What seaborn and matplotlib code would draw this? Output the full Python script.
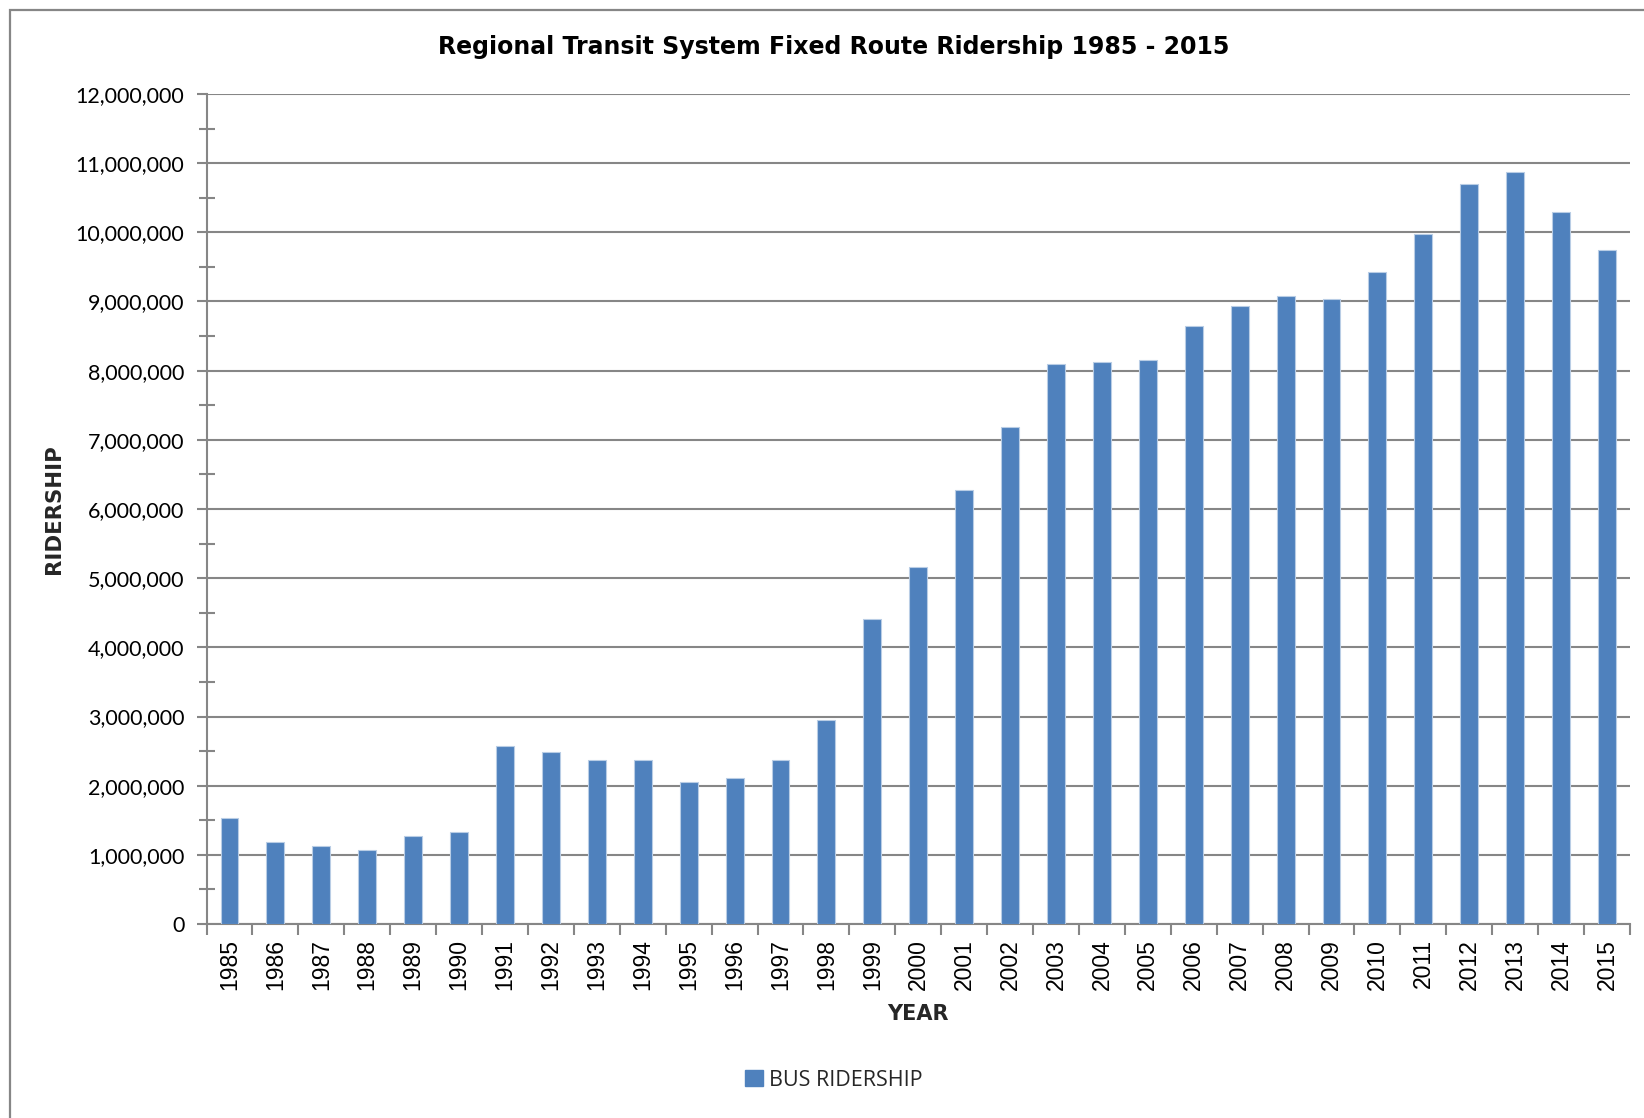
import matplotlib
matplotlib.use("Agg")
import matplotlib.pyplot as plt
import matplotlib.patches as mpatches
from matplotlib.ticker import FuncFormatter, MultipleLocator, FixedLocator
import seaborn as sns
import pandas as pd

years = [str(y) for y in range(1985, 2016)]
ridership = [1530000, 1185000, 1125000, 1065000, 1270000, 1330000, 2570000, 2485000,
             2370000, 2370000, 2050000, 2105000, 2370000, 2945000, 4410000, 5160000,
             6280000, 7180000, 8100000, 8130000, 8160000, 8650000, 8935000, 9075000,
             9030000, 9425000, 9980000, 10700000, 10870000, 10295000, 9745000]
series_name = "BUS RIDERSHIP"
title = "Regional Transit System Fixed Route Ridership 1985 - 2015"

df = pd.DataFrame({"year": years, "ridership": ridership})

sns.set_theme(style="white")
plt.rcParams['font.family'] = ['DejaVu Sans']

W, H = 1644, 1118
fig = plt.figure(figsize=(W / 100, H / 100), dpi=100)
fig.patch.set_facecolor("white")

gray = "#868686"
bar_color = "#4F81BD"

# outer chart border (clipped at right/bottom like the reference)
fig.patches.append(mpatches.Rectangle((10 / W, -0.05), 1.2, 1 - 10 / H + 0.05,
                                      transform=fig.transFigure, fill=False,
                                      edgecolor=gray, linewidth=1.6, zorder=0))

ax = fig.add_axes([206.5 / W, 1 - 924 / H, (1630 - 206.5) / W, (924 - 94) / H])
sns.barplot(data=df, x="year", y="ridership", color=bar_color, width=0.39,
            edgecolor="#B9CDE5", linewidth=0.8, saturation=1, ax=ax, zorder=3)

ax.set_xlim(-0.5, len(years) - 0.5)
ax.set_ylim(0, 12000000)
ax.yaxis.set_major_locator(MultipleLocator(1000000))
ax.yaxis.set_minor_locator(MultipleLocator(500000))
ax.yaxis.set_major_formatter(FuncFormatter(lambda v, p: f"{int(v):,}"))
ax.grid(axis="y", which="major", color=gray, linewidth=1.5, zorder=0)
ax.set_axisbelow(True)

for s in ["top", "right"]:
    ax.spines[s].set_visible(False)
for s in ["left", "bottom"]:
    ax.spines[s].set_color(gray)
    ax.spines[s].set_linewidth(1.5)

ax.tick_params(axis="y", which="major", direction="out", length=7, width=1.5,
               color=gray, left=True, pad=9, labelsize=15.5, labelcolor="black")
ax.tick_params(axis="y", which="minor", direction="inout", length=12, width=1.5,
               color=gray, left=True)
for lab in ax.get_yticklabels():
    lab.set_fontfamily("Lato")

# x ticks at category boundaries
ax.xaxis.set_minor_locator(FixedLocator([i - 0.5 for i in range(len(years) + 1)]))
ax.tick_params(axis="x", which="major", length=0, pad=11, labelsize=16.5,
               labelcolor="black", labelrotation=90)
ax.tick_params(axis="x", which="minor", direction="out", length=8, width=1.5,
               color=gray, bottom=True)
for lab in ax.get_xticklabels():
    lab.set_fontfamily("Liberation Sans")

ax.set_xlabel("YEAR", fontsize=15, fontweight="bold", labelpad=10)
ax.set_ylabel("RIDERSHIP", fontsize=15.3, fontweight="bold", labelpad=8)

fig.text(833.5 / W, 1 - 47 / H, title, ha="center", va="center",
         fontsize=17, fontweight="bold", color="black")

handle = mpatches.Patch(color=bar_color, label=series_name)
fig.legend(handles=[handle], loc="center", bbox_to_anchor=(834 / W, 1 - 1080 / H),
           frameon=False, prop={"family": "Open Sans", "size": 15.5},
           handlelength=0.8, handleheight=0.8, handletextpad=0.3)

fig.savefig("out.png", dpi=100, facecolor="white")
